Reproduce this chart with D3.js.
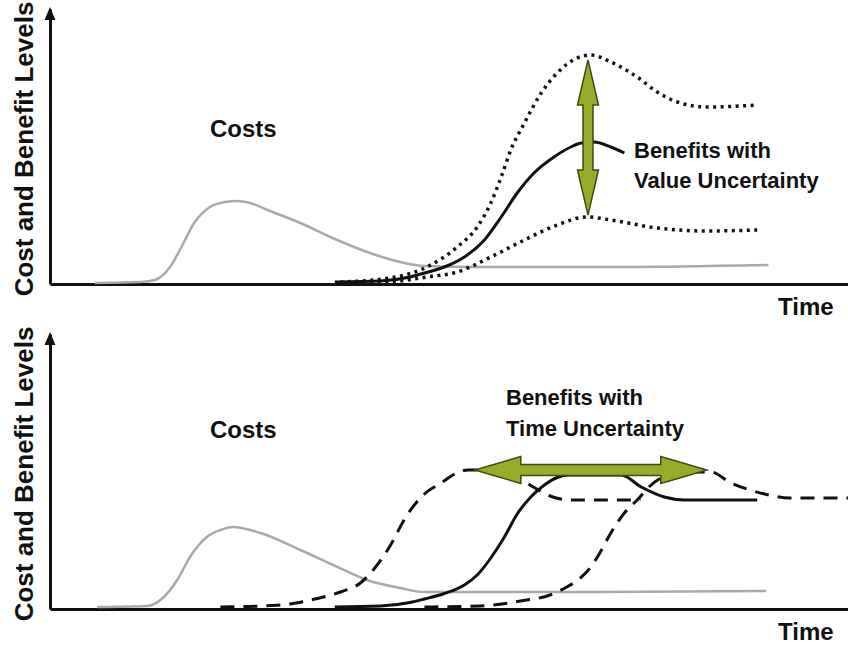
<!DOCTYPE html>
<html>
<head>
<meta charset="utf-8">
<script src="https://cdn.jsdelivr.net/npm/d3@7"></script>
<style>
  html, body { margin: 0; padding: 0; background: #fff; }
  svg { display: block; }
  text { font-family: "Liberation Sans", Arial, sans-serif; font-weight: bold; fill: #111; }
</style>
</head>
<body>
<svg id="chart" width="848" height="645"></svg>
<script>
// ---- data: [time, level] (time 0..100, level 0..110) ----
const topCosts = [[5.6,0.4],[11.3,0.8],[13.1,1.6],[15.0,6.8],[16.3,14.0],[18.1,24.8],[20.0,30.8],[21.9,32.8],[23.4,33.2],[25.0,32.4],[27.5,29.2],[31.3,24.4],[35.6,18.0],[40.0,12.4],[43.8,8.8],[46.8,7.2],[53.8,6.8],[71.3,6.8],[89.8,7.6]];
const topBenefit = [[35.6,0.8],[41.3,1.2],[45.0,2.8],[46.8,4.4],[49.3,6.8],[51.8,10.8],[54.3,17.6],[56.4,26.8],[58.4,36.4],[60.5,44.4],[63.0,50.8],[65.1,54.8],[66.4,56.4],[68.0,56.8],[70.1,54.8],[71.8,52.4]];
const topUpper = [[36.3,0.8],[42.5,2.4],[47.1,6.8],[50.9,14.8],[53.4,22.8],[55.1,32.4],[56.4,42.8],[57.6,53.6],[59.3,64.4],[61.4,76.4],[63.4,84.4],[65.9,90.4],[67.6,91.6],[70.1,88.8],[73.4,82.8],[75.9,76.8],[78.4,72.8],[82.1,70.8],[88.4,71.6]];
const topLower = [[36.3,0.0],[42.5,0.8],[47.1,2.8],[50.9,4.8],[55.1,10.8],[59.3,17.6],[63.4,23.6],[67.1,26.8],[70.1,25.6],[75.9,22.4],[82.1,21.2],[88.4,21.6]];

const botCosts = [[5.9,0.8],[12.1,1.2],[14.1,4.4],[15.9,11.6],[17.5,20.8],[19.6,28.8],[21.3,31.6],[22.9,32.8],[26.3,30.4],[31.3,23.6],[35.4,17.6],[39.6,11.6],[43.8,8.4],[46.8,6.8],[68.8,6.8],[89.5,7.2]];
const botBenefit = [[35.6,0.8],[41.3,1.2],[45.0,2.6],[46.8,4.0],[49.3,6.2],[51.8,9.6],[53.4,13.6],[55.1,20.4],[56.8,28.8],[58.4,38.0],[60.1,44.8],[61.8,49.6],[63.4,52.6],[64.8,53.6],[71.4,53.6],[73.9,48.8],[76.8,44.8],[79.3,43.6],[88.4,43.6]];
const botEarly = [[21.3,0.8],[26.3,1.2],[30.0,2.0],[33.1,4.0],[36.3,6.8],[38.8,10.4],[40.6,16.4],[42.5,25.2],[44.4,36.4],[46.8,46.0],[48.9,50.4],[50.6,54.0],[52.3,55.6],[55.0,55.6],[57.8,54.0],[60.0,49.6],[62.5,45.2],[65.0,43.6],[73.8,43.6]];
const botLate = [[46.8,0.8],[53.8,1.2],[58.8,3.2],[62.5,5.6],[64.6,8.8],[66.3,12.4],[67.6,16.8],[68.8,22.8],[70.1,30.4],[71.8,38.4],[73.4,43.6],[75.0,49.2],[76.6,52.8],[78.8,54.8],[82.6,54.8],[85.1,50.4],[87.5,47.6],[89.3,46.0],[92.5,44.4],[99.8,44.4]];

// annotation arrows: value range at a time, time range at a level
const valueArrow = { time: 67.25, from: 89.6, to: 27.6 };
const timeArrow = { level: 55.6, from: 53.1, to: 82.1 };

const yLabel = "Cost and Benefit Levels";
const xLabel = "Time";
const costLabel = "Costs";
const valueLabel = ["Benefits with", "Value Uncertainty"];
const timeLabel = ["Benefits with", "Time Uncertainty"];

// ---- drawing ----
const svg = d3.select("#chart");
const x = d3.scaleLinear().domain([0, 100]).range([50, 850]);
const green = "#97ad2a", greenEdge = "#3f4c10";

function makeY(base) { return d3.scaleLinear().domain([0, 110]).range([base, base - 275]); }

function arrowPath(p1, p2, hl, hw, sw) {
  const dx = p2[0] - p1[0], dy = p2[1] - p1[1];
  const L = Math.hypot(dx, dy), ux = dx / L, uy = dy / L, nx = -uy, ny = ux;
  const pt = (d, o) => [p1[0] + ux * d + nx * o, p1[1] + uy * d + ny * o];
  const pts = [pt(0, 0), pt(hl, hw / 2), pt(hl, sw / 2), pt(L - hl, sw / 2), pt(L - hl, hw / 2), pt(L, 0),
               pt(L - hl, -hw / 2), pt(L - hl, -sw / 2), pt(hl, -sw / 2), pt(hl, -hw / 2)];
  return "M" + pts.map(p => p[0].toFixed(1) + "," + p[1].toFixed(1)).join("L") + "Z";
}

function panel(base, costs, curves, labels) {
  const y = makeY(base);
  const g = svg.append("g");
  const line = d3.line().x(d => x(d[0])).y(d => y(d[1])).curve(d3.curveMonotoneX);

  // axes (no ticks)
  const xa = g.append("g").attr("transform", `translate(0,${base})`)
    .call(d3.axisBottom(x).tickValues([]).tickSizeOuter(0));
  xa.select(".domain").attr("stroke", "#111").attr("stroke-width", 3);
  const ya = g.append("g").attr("transform", `translate(${x(0)},0)`)
    .call(d3.axisLeft(y).tickValues([]).tickSizeOuter(0));
  ya.select(".domain").attr("stroke", "#111").attr("stroke-width", 3);
  const tipY = y(110);
  g.append("path").attr("d", `M${x(0)},${tipY - 2}L${x(0) + 5.5},${tipY + 11}L${x(0) - 5.5},${tipY + 11}Z`).attr("fill", "#111");

  // y label
  g.append("text").attr("transform", `translate(33,${base - 135}) rotate(-90)`)
    .attr("text-anchor", "middle").style("font-size", "26px").text(yLabel);
  // x label
  g.append("text").attr("x", 778).attr("y", base + 31).style("font-size", "24px").text(xLabel);

  // costs
  g.append("path").attr("d", line(costs)).attr("fill", "none")
    .attr("stroke", "#a9a9a9").attr("stroke-width", 2.5);

  curves.forEach(c => {
    g.append("path").attr("d", line(c.data)).attr("fill", "none")
      .attr("stroke", "#111").attr("stroke-width", c.w || 3)
      .attr("stroke-dasharray", c.dash || null);
  });

  labels(g, y);
}

// top panel
panel(284, topCosts, [
  { data: topBenefit, w: 3 },
  { data: topUpper, w: 3.5, dash: "3,4.5" },
  { data: topLower, w: 3.5, dash: "3,4.5" }
], (g, y) => {
  g.append("text").attr("x", 210).attr("y", 137).style("font-size", "24px").text(costLabel);
  g.append("text").attr("x", 634).attr("y", 158).style("font-size", "22px").text(valueLabel[0]);
  g.append("text").attr("x", 634).attr("y", 188).style("font-size", "22px").text(valueLabel[1]);
  g.append("path")
    .attr("d", arrowPath([x(valueArrow.time), y(valueArrow.from)], [x(valueArrow.time), y(valueArrow.to)], 45, 21, 10))
    .attr("fill", green).attr("stroke", greenEdge).attr("stroke-width", 1.5);
});

// bottom panel
panel(609, botCosts, [
  { data: botBenefit, w: 3 },
  { data: botEarly, w: 3, dash: "14,9" },
  { data: botLate, w: 3, dash: "14,9" }
], (g, y) => {
  g.append("text").attr("x", 210).attr("y", 438).style("font-size", "24px").text(costLabel);
  g.append("text").attr("x", 506).attr("y", 405).style("font-size", "22px").text(timeLabel[0]);
  g.append("text").attr("x", 506).attr("y", 436).style("font-size", "22px").text(timeLabel[1]);
  g.append("path")
    .attr("d", arrowPath([x(timeArrow.from), y(timeArrow.level)], [x(timeArrow.to), y(timeArrow.level)], 46, 27, 11))
    .attr("fill", green).attr("stroke", greenEdge).attr("stroke-width", 1.5);
});
</script>
</body>
</html>
